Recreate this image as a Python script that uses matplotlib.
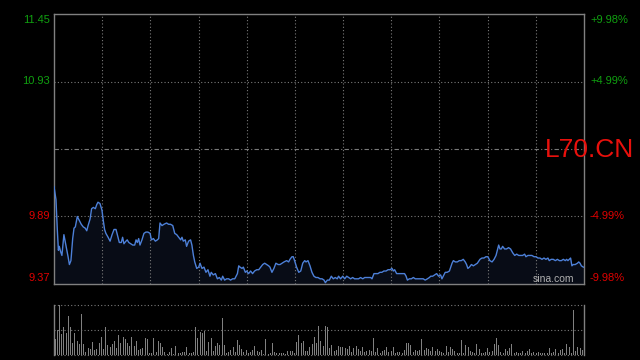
import numpy as np
import matplotlib
matplotlib.use("Agg")
import matplotlib.pyplot as plt

plt.rcParams['font.family'] = ['Liberation Sans', 'DejaVu Sans']

symbol = "L70.CN"
prev_close = 10.41
price_ticks = [11.45, 10.93, 9.89, 9.37]
pct_labels = ['+9.98%', '+4.99%', '-4.99%', '-9.98%']
tick_colors = ['#10a010', '#10a010', '#e00000', '#e00000']

# minutes since the open
minutes = [
    0.0, 0.9, 1.5, 2.0, 2.4, 3.0, 3.6, 4.5, 5.5, 6.4, 7.0, 7.7, 8.5, 9.1, 9.7, 10.6,
    11.5, 12.4, 13.3, 14.2, 14.9, 15.5, 16.4, 17.1, 17.9, 18.8, 19.4, 20.0, 20.9, 21.8,
    22.4, 23.0, 23.6, 24.6, 25.5, 26.4, 27.3, 28.2, 29.1, 29.7, 30.6, 31.2, 31.8, 32.7,
    33.3, 34.0, 34.9, 35.8, 36.7, 37.3, 37.9, 38.5, 39.1, 40.0, 40.9, 41.8, 42.7, 43.7,
    44.3, 45.2, 46.1, 47.0, 47.6,
    48.2, 49.1, 50.0, 51.2, 52.1, 53.0, 54.0, 54.9, 55.8, 56.7, 57.6, 58.2, 58.8, 59.7,
    60.3, 61.2, 62.1, 62.7, 63.4, 64.0, 64.9, 65.8, 66.4, 67.3, 68.2, 69.1, 70.0, 70.9,
    71.5, 72.4, 73.4, 74.3, 75.2, 76.1, 76.7, 77.6, 78.5, 79.4, 80.3, 81.2, 82.2, 82.8,
    83.4, 84.0, 84.6, 85.5, 86.1, 87.0, 87.6, 88.5, 89.4, 90.3, 91.2, 92.2, 93.1, 94.0,
    94.9, 95.8, 96.7, 97.6,
    98.2, 99.1, 100.0, 100.9, 101.9, 102.8, 103.7, 104.6, 105.8, 106.7, 107.3, 108.2,
    108.8, 109.4, 110.3, 111.3, 112.2, 113.1, 114.0, 114.6, 115.5, 116.4, 117.3, 118.2,
    119.1, 120.0, 121.0, 121.9, 122.8, 123.4, 124.3, 125.2, 126.1, 127.0, 127.9, 128.8,
    129.4, 130.3, 131.3, 132.2, 133.1, 134.0, 134.9, 135.8, 136.7, 137.6, 138.5, 139.4,
    140.4, 141.3, 142.2, 143.1, 144.0, 144.6, 145.5, 146.4, 147.3,
    148.2, 149.1, 150.0, 151.0, 151.9, 152.8, 153.7, 154.3, 154.9, 155.8, 156.7, 157.6,
    158.5, 159.4, 160.1, 160.7, 161.6, 162.5, 163.4, 164.3, 165.2, 166.1, 167.0, 167.9,
    168.8, 169.8, 170.7, 171.3, 172.2, 173.1, 174.0, 174.9, 175.8, 176.4, 177.0, 177.9,
    178.8, 179.8, 180.4, 181.0, 181.6, 182.5, 183.4, 184.3, 185.2, 186.1, 187.0, 187.6,
    188.2, 188.9, 189.8, 190.7, 191.6, 192.5,
    193.7, 194.6, 195.5, 196.4, 197.3, 198.2, 199.2, 200.1, 201.0, 201.6, 202.2, 202.8,
    203.4, 204.0, 204.9, 205.8, 206.7, 207.6, 208.6, 209.5, 210.4, 211.3, 212.2, 213.1,
    214.0, 214.6, 215.5, 216.4, 217.3, 218.3, 219.2, 220.1, 221.0, 221.9, 222.8, 223.7,
    224.6, 225.2, 226.1, 227.0, 228.0, 228.9, 229.8, 230.7, 231.6, 232.5, 233.1, 233.7,
    234.3, 234.9, 235.5, 236.1, 237.0, 238.0, 238.6, 239.2, 239.8, 240.7,
]

prices = [
    10.12, 10.02, 9.79, 9.63, 9.66, 9.62, 9.59, 9.75, 9.66, 9.58, 9.52, 9.55, 9.72, 9.80,
    9.81, 9.89, 9.86, 9.83, 9.81, 9.80, 9.78, 9.82, 9.87, 9.95, 9.96, 9.95, 9.98, 10.00,
    9.99, 9.94, 9.86, 9.79, 9.76, 9.73, 9.70, 9.75, 9.79, 9.79, 9.73, 9.69, 9.69, 9.73,
    9.68, 9.70, 9.71, 9.69, 9.68, 9.67, 9.67, 9.71, 9.69, 9.72, 9.67, 9.71, 9.76, 9.77,
    9.77, 9.76, 9.71, 9.72, 9.70, 9.71, 9.72,
    9.84, 9.82, 9.83, 9.84, 9.83, 9.83, 9.82, 9.76, 9.75, 9.73, 9.71, 9.73, 9.70, 9.71,
    9.66, 9.70, 9.71, 9.67, 9.59, 9.54, 9.49, 9.50, 9.53, 9.49, 9.50, 9.46, 9.48, 9.43,
    9.46, 9.44, 9.45, 9.41, 9.42, 9.40, 9.43, 9.40, 9.41, 9.41, 9.40, 9.41, 9.41, 9.43,
    9.45, 9.51, 9.50, 9.49, 9.50, 9.46, 9.47, 9.45, 9.47, 9.45, 9.47, 9.48, 9.48, 9.50,
    9.52, 9.53, 9.52, 9.51,
    9.50, 9.46, 9.49, 9.53, 9.52, 9.52, 9.53, 9.54, 9.55, 9.54, 9.56, 9.58, 9.58, 9.55,
    9.50, 9.46, 9.47, 9.53, 9.55, 9.54, 9.55, 9.51, 9.46, 9.43, 9.42, 9.42, 9.41, 9.41,
    9.40, 9.38, 9.40, 9.40, 9.43, 9.41, 9.42, 9.41, 9.43, 9.41, 9.43, 9.41, 9.43, 9.42,
    9.41, 9.42, 9.41, 9.41, 9.41, 9.42, 9.41, 9.42, 9.42, 9.42, 9.42, 9.41, 9.45, 9.45,
    9.45,
    9.46, 9.46, 9.47, 9.47, 9.48, 9.48, 9.49, 9.47, 9.48, 9.45, 9.45, 9.45, 9.45, 9.45,
    9.43, 9.40, 9.41, 9.41, 9.42, 9.41, 9.41, 9.41, 9.41, 9.41, 9.40, 9.41, 9.42, 9.43,
    9.43, 9.44, 9.45, 9.43, 9.44, 9.41, 9.43, 9.46, 9.46, 9.47, 9.50, 9.53, 9.55, 9.54,
    9.54, 9.55, 9.55, 9.56, 9.54, 9.52, 9.49, 9.50, 9.52, 9.51, 9.52, 9.53,
    9.56, 9.57, 9.57, 9.58, 9.58, 9.55, 9.54, 9.56, 9.59, 9.63, 9.67, 9.64, 9.64, 9.66,
    9.64, 9.64, 9.65, 9.64, 9.61, 9.59, 9.60, 9.59, 9.59, 9.59, 9.60, 9.58, 9.59, 9.59,
    9.59, 9.58, 9.58, 9.57, 9.57, 9.56, 9.57, 9.56, 9.57, 9.55, 9.56, 9.56, 9.55, 9.56,
    9.55, 9.55, 9.56, 9.55, 9.56, 9.55, 9.56, 9.57, 9.51, 9.52, 9.52, 9.53, 9.54, 9.53,
    9.51, 9.50,
]

# per-minute volume (relative units, top of the panel = 50)
volume = [
    16, 25, 50, 21, 28, 22, 39, 28, 12, 22, 14, 11, 41, 11, 3, 7, 6, 13, 5, 6,
    12, 18, 6, 28, 10, 8, 11, 14, 7, 20, 12, 18, 16, 12, 9, 18, 9, 14, 5, 6,
    7, 17, 16, 2, 2, 17, 3, 14, 12, 8, 3, 1, 3, 7, 1, 9, 2, 2, 3, 3,
    8, 2, 2, 3, 28, 17, 23, 22, 24, 4, 13, 17, 4, 9, 12, 10, 37, 10, 2, 3,
    5, 8, 3, 15, 10, 6, 3, 5, 2, 3, 5, 9, 4, 3, 5, 1, 16, 1, 2, 12,
    3, 2, 2, 2, 2, 1, 4, 4, 4, 2, 13, 20, 12, 14, 4, 4, 8, 11, 18, 12,
    29, 14, 9, 29, 28, 7, 10, 4, 5, 9, 8, 8, 7, 6, 9, 3, 7, 9, 6, 4,
    8, 3, 4, 5, 4, 17, 3, 7, 2, 4, 5, 8, 3, 4, 8, 2, 3, 3, 2, 5,
    12, 12, 10, 3, 5, 4, 5, 16, 5, 7, 6, 4, 8, 4, 6, 4, 3, 2, 9, 3,
    8, 6, 4, 2, 2, 15, 2, 10, 8, 4, 3, 2, 11, 6, 2, 2, 3, 7, 3, 4,
    11, 17, 10, 3, 2, 6, 4, 7, 11, 2, 3, 2, 2, 4, 2, 4, 6, 2, 3, 2,
    3, 2, 2, 2, 2, 7, 2, 3, 6, 2, 5, 6, 2, 11, 8, 2, 45, 4, 8, 7,
    5,
]
vol_minutes = np.arange(len(volume))

assert len(minutes) == len(prices)

grid_col = '#7a7a7a'
frame_col = '#808080'
dotted = (0, (1, 2))

fig = plt.figure(figsize=(6.4, 3.6), dpi=100, facecolor='black')
ax = fig.add_axes([54 / 640, 76 / 360, 530 / 640, 270 / 360])
axv = fig.add_axes([54 / 640, 5 / 360, 530 / 640, 50 / 360])

for a in (ax, axv):
    a.set_facecolor('black')
    a.tick_params(length=0, labelbottom=False, labelleft=False)
    for s in a.spines.values():
        s.set_color(frame_col)
        s.set_linewidth(1)

# price panel
ax.set_xlim(0, 241)
ax.set_ylim(9.37, 11.45)
ax.set_xticks(np.linspace(0, 241, 12)[1:-1])
ax.set_yticks([])
ax.grid(axis='x', color=grid_col, lw=0.8, linestyle=dotted)
for p in (10.93, 9.89):
    ax.axhline(p, color=grid_col, lw=0.8, linestyle=dotted)
ax.axhline(prev_close, color=grid_col, lw=0.8, linestyle=(0, (4, 2, 1, 2)))

ax.fill_between(minutes, prices, 9.37, color='#080c16', lw=0, zorder=1)
ax.plot(minutes, prices, color='#4d80d8', lw=1.0, zorder=3)

offsets = [-6, 0, 0, 6]
for p, lab, c, dy in zip(price_ticks, pct_labels, tick_colors, offsets):
    ax.annotate(f"{p:.2f}", xy=(0, p), xycoords=ax.get_yaxis_transform(),
                xytext=(-3, dy * 0.72), textcoords='offset points',
                ha='right', va='center', color=c, fontsize=8, annotation_clip=False)
    ax.annotate(lab, xy=(1, p), xycoords=ax.get_yaxis_transform(),
                xytext=(4.3, dy * 0.72), textcoords='offset points',
                ha='left', va='center', color=c, fontsize=8, annotation_clip=False)

ax.text(0.9415, 0.02, "sina.com", transform=ax.transAxes, ha='center', va='center',
        color='#b0b0b0', fontsize=7.5)
fig.text(545 / 640, 1 - 150 / 360, symbol, ha='left', va='center',
         color='#e8100c', fontsize=19)

# volume panel
axv.bar(vol_minutes, volume, width=0.45, color='#808080', lw=0)
axv.set_xlim(-0.5, 240.8)
axv.set_ylim(0, 50)
axv.set_xticks([])
axv.set_yticks([])
axv.spines['top'].set_visible(False)
axv.spines['bottom'].set_visible(False)
for v in (0, 25, 50):
    axv.axhline(v, color=grid_col, lw=0.8, linestyle=dotted, clip_on=False)

fig.savefig("out.png", dpi=100, facecolor='black')
